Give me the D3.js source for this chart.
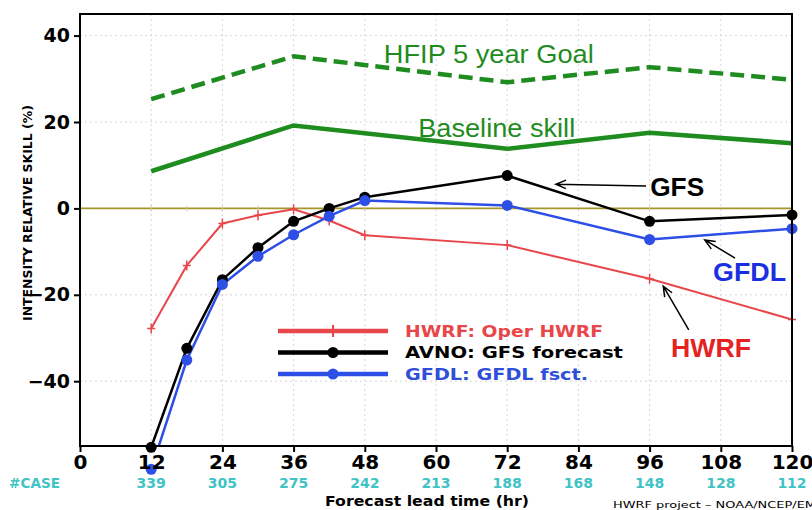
<!DOCTYPE html>
<html>
<head>
<meta charset="utf-8">
<script src="https://cdn.jsdelivr.net/npm/d3@7"></script>
<style>
  body { margin: 0; background: #fff; }
  svg { display: block; }
</style>
</head>
<body>
<svg id="chart" width="812" height="510"></svg>
<script>
// forecast hours of the verified models
var hours = [12, 18, 24, 30, 36, 42, 48, 72, 96, 120];
var hwrf = [-27.8, -13.2, -3.5, -1.6, -0.2, -2.8, -6.2, -8.5, -16.3, -25.7];
var avno = [-55.3, -32.4, -16.5, -9.1, -3.0, 0.0, 2.6, 7.6, -3.0, -1.5];
var gfdl = [-60.4, -35.1, -17.6, -11.1, -6.1, -1.8, 1.8, 0.7, -7.2, -4.7];

// HFIP goal and baseline curves
var goalHours = [12, 36, 72, 96, 120];
var goal = [25.3, 35.2, 29.2, 32.7, 29.8];
var baseline = [8.6, 19.2, 13.8, 17.5, 15.1];

// axis ticks and number of cases
var xTicks = [0, 12, 24, 36, 48, 60, 72, 84, 96, 108, 120];
var yTicks = [40, 20, 0, -20, -40];
var caseHours = [12, 24, 36, 48, 60, 72, 84, 96, 108, 120];
var cases = [339, 305, 275, 242, 213, 188, 168, 148, 128, 112];

var legendNames = ["HWRF: Oper HWRF", "AVNO: GFS forecast", "GFDL: GFDL fsct."];

var svg = d3.select("#chart");
var x = d3.scaleLinear().domain([0, 120]).range([80, 792]);
var y = d3.scaleLinear().domain([-55, 45]).range([446, 14]);

var green = "#1f8c1f", red = "#e8464a", blue = "#2d4fe6", teal = "#3fc3c6";
var tickFont = "DejaVu Sans, sans-serif";

svg.append("defs").append("clipPath").attr("id", "plot")
    .append("rect").attr("x", 80).attr("y", 14).attr("width", 712).attr("height", 432);

// dotted grid
svg.append("g").selectAll("line").data(xTicks.slice(1, -1)).enter().append("line")
    .attr("x1", d => x(d)).attr("x2", d => x(d)).attr("y1", 14).attr("y2", 446)
    .attr("stroke", "#d6d6d6").attr("stroke-width", 1).attr("stroke-dasharray", "2,3");
svg.append("g").selectAll("line").data(yTicks.filter(d => d != 0)).enter().append("line")
    .attr("x1", 80).attr("x2", 792).attr("y1", d => y(d)).attr("y2", d => y(d))
    .attr("stroke", "#d6d6d6").attr("stroke-width", 1).attr("stroke-dasharray", "2,3");

// zero line
svg.append("line").attr("x1", 80).attr("x2", 792).attr("y1", y(0)).attr("y2", y(0))
    .attr("stroke", "#a3962a").attr("stroke-width", 1.6);
svg.append("g").selectAll("line").data(hours).enter().append("line")
    .attr("x1", d => x(d)).attr("x2", d => x(d)).attr("y1", y(0) - 3).attr("y2", y(0) + 3)
    .attr("stroke", "#d8cf90").attr("stroke-width", 1);

var plot = svg.append("g").attr("clip-path", "url(#plot)");
var line = d3.line().x(d => x(d[0])).y(d => y(d[1]));

// goal / baseline
plot.append("path").datum(d3.zip(goalHours, goal)).attr("d", line)
    .attr("fill", "none").attr("stroke", green).attr("stroke-width", 4.5)
    .attr("stroke-dasharray", "14,7");
plot.append("path").datum(d3.zip(goalHours, baseline)).attr("d", line)
    .attr("fill", "none").attr("stroke", green).attr("stroke-width", 4.5);

// model series
var series = [
    {values: hwrf, color: red, width: 2, mark: "plus"},
    {values: avno, color: "#000", width: 2.5, mark: "dot"},
    {values: gfdl, color: blue, width: 2.5, mark: "dot"}
];
series.forEach(function (s) {
    plot.append("path").datum(d3.zip(hours, s.values)).attr("d", line)
        .attr("fill", "none").attr("stroke", s.color).attr("stroke-width", s.width);
});
series.forEach(function (s) {
    var pts = d3.zip(hours, s.values);
    if (s.mark == "dot") {
        svg.append("g").selectAll("circle").data(pts).enter().append("circle")
            .attr("cx", d => x(d[0])).attr("cy", d => y(d[1])).attr("r", 5.5)
            .attr("fill", s.color);
    } else {
        svg.append("g").selectAll("path").data(pts).enter().append("path")
            .attr("d", d => "M" + (x(d[0]) - 4) + "," + y(d[1]) + "h8M" + x(d[0]) + "," + (y(d[1]) - 5) + "v10")
            .attr("stroke", s.color).attr("stroke-width", 1.5);
    }
});

// frame
svg.append("rect").attr("x", 80).attr("y", 14).attr("width", 712).attr("height", 432)
    .attr("fill", "none").attr("stroke", "#000").attr("stroke-width", 2);

// axes
var yAxis = svg.append("g").attr("transform", "translate(80,0)")
    .call(d3.axisLeft(y).tickValues(yTicks).tickSize(6).tickPadding(4)
        .tickFormat(d => d < 0 ? "\u2212" + Math.abs(d) : d));
var xAxis = svg.append("g").attr("transform", "translate(0,446)")
    .call(d3.axisBottom(x).tickValues(xTicks).tickSize(6).tickPadding(3));
[xAxis, yAxis].forEach(function (a) {
    a.select(".domain").remove();
    a.selectAll(".tick line").attr("stroke", "#000").attr("stroke-width", 2);
    a.selectAll("text").attr("fill", "#000").attr("font-family", tickFont)
        .attr("font-weight", "bold").attr("font-size", 19);
});
xAxis.selectAll("text").attr("font-size", 20);

// case counts
svg.append("g").selectAll("text").data(d3.zip(caseHours, cases)).enter().append("text")
    .attr("x", d => x(d[0])).attr("y", 488).attr("text-anchor", "middle")
    .attr("font-family", tickFont).attr("font-weight", "bold").attr("font-size", 14)
    .attr("fill", teal).text(d => d[1]);
svg.append("text").attr("x", 9).attr("y", 488).attr("font-family", tickFont)
    .attr("font-weight", "bold").attr("font-size", 14).attr("fill", teal)
    .attr("textLength", 51).attr("lengthAdjust", "spacingAndGlyphs").text("#CASE");

// axis titles
svg.append("text").attr("x", 325).attr("y", 506).attr("font-family", tickFont)
    .attr("font-weight", "bold").attr("font-size", 14).attr("textLength", 204)
    .attr("lengthAdjust", "spacingAndGlyphs").text("Forecast lead time (hr)");
svg.append("text").attr("transform", "translate(32,213) rotate(-90)")
    .attr("text-anchor", "middle").attr("font-family", tickFont)
    .attr("font-weight", "bold").attr("font-size", 12).attr("textLength", 216)
    .attr("lengthAdjust", "spacingAndGlyphs").text("INTENSITY RELATIVE SKILL (%)");
svg.append("text").attr("x", 613).attr("y", 508).attr("font-family", tickFont)
    .attr("font-size", 9).attr("textLength", 212).attr("lengthAdjust", "spacingAndGlyphs")
    .text("HWRF project \u2013 NOAA/NCEP/EMC");

// curve labels
var labelFont = "Liberation Sans, Arial, sans-serif";
svg.append("text").attr("x", x(51.2)).attr("y", y(33.6)).attr("font-family", labelFont)
    .attr("font-size", 26).attr("fill", green).attr("textLength", 210)
    .attr("lengthAdjust", "spacingAndGlyphs").text("HFIP 5 year Goal");
svg.append("text").attr("x", x(57.0)).attr("y", y(16.5)).attr("font-family", labelFont)
    .attr("font-size", 26).attr("fill", green).attr("textLength", 157)
    .attr("lengthAdjust", "spacingAndGlyphs").text("Baseline skill");

var notes = [
    {text: "GFS", color: "#000", tx: 96.1, ty: 2.9, len: 54, from: [95.4, 5.2], to: [80.2, 5.6]},
    {text: "GFDL", color: "#1a30e0", tx: 106.7, ty: -16.8, len: 73, from: [110.4, -11.5], to: [105.3, -7.3]},
    {text: "HWRF", color: "#e42222", tx: 99.6, ty: -34.4, len: 80, from: [102.6, -28.1], to: [98.3, -18.0]}
];
notes.forEach(function (n) {
    svg.append("text").attr("x", x(n.tx)).attr("y", y(n.ty)).attr("font-family", labelFont)
        .attr("font-weight", "bold").attr("font-size", 25).attr("fill", n.color)
        .attr("textLength", n.len).attr("lengthAdjust", "spacingAndGlyphs").text(n.text);
    var x0 = x(n.from[0]), y0 = y(n.from[1]), x1 = x(n.to[0]), y1 = y(n.to[1]);
    var ang = Math.atan2(y0 - y1, x0 - x1);
    var h = 11, spread = 0.4;
    svg.append("path")
        .attr("d", "M" + x0 + "," + y0 + "L" + x1 + "," + y1 +
            "M" + (x1 + h * Math.cos(ang - spread)) + "," + (y1 + h * Math.sin(ang - spread)) +
            "L" + x1 + "," + y1 +
            "L" + (x1 + h * Math.cos(ang + spread)) + "," + (y1 + h * Math.sin(ang + spread)))
        .attr("fill", "none").attr("stroke", "#000").attr("stroke-width", 1.5);
});

// legend
var legend = svg.append("g").attr("transform", "translate(278,331)");
var legendLens = [198, 218, 183];
series.forEach(function (s, i) {
    var g = legend.append("g").attr("transform", "translate(0," + (i * 21.5) + ")");
    g.append("line").attr("x1", 0).attr("x2", 110).attr("stroke", s.color).attr("stroke-width", 4.5);
    if (s.mark == "dot") {
        g.append("circle").attr("cx", 55).attr("r", 5.5).attr("fill", s.color);
    } else {
        g.append("line").attr("x1", 55).attr("x2", 55).attr("y1", -6).attr("y2", 6)
            .attr("stroke", s.color).attr("stroke-width", 2);
    }
    g.append("text").attr("x", 127).attr("y", 5.5).attr("font-family", tickFont)
        .attr("font-weight", "bold").attr("font-size", 15)
        .attr("fill", i == 2 ? "#2f4fd8" : s.color)
        .attr("textLength", legendLens[i]).attr("lengthAdjust", "spacingAndGlyphs")
        .text(legendNames[i]);
});
</script>
</body>
</html>
